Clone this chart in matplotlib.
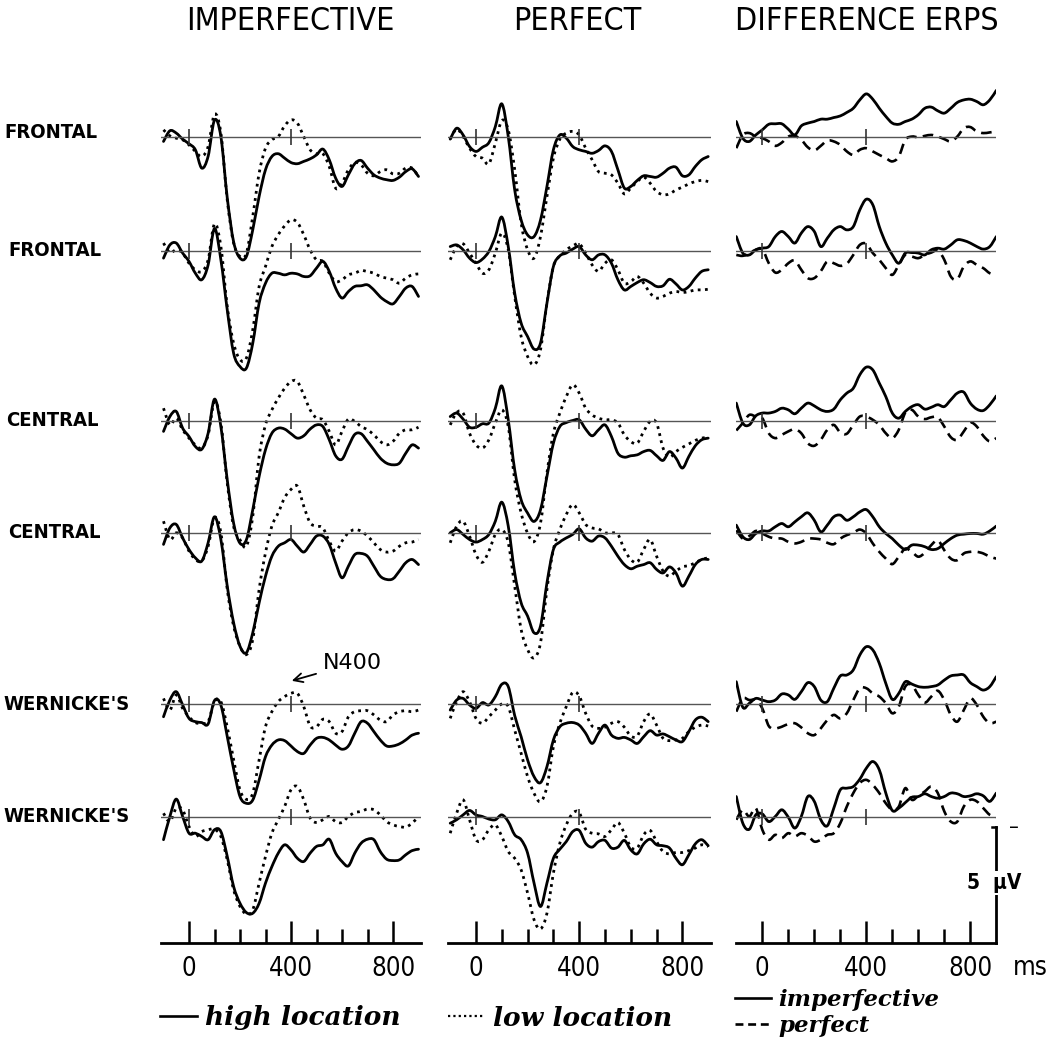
import numpy as np
import matplotlib
matplotlib.use("Agg")
import matplotlib.pyplot as plt
from matplotlib.ticker import FixedLocator
from matplotlib.path import Path
from matplotlib.patches import PathPatch
from matplotlib.lines import Line2D

# time grid (ms) shared by every waveform
times = np.arange(-100, 901, 25)

# ---- IMPERFECTIVE (high / low location), microvolts, positive down ----
imp_high_F1 = [0.17, -0.29, -0.19, 0.07, 0.27, 0.53, 1.32, 0.81, -0.75, -0.04, 2.6, 4.5, 5.2, 5.13, 3.98, 2.54, 1.39, 0.82, 0.70, 0.89, 1.08, 1.13, 1.03, 0.92, 0.75, 0.5, 0.96, 1.75, 2.11, 1.61, 1.13, 0.99, 1.32, 1.61, 1.75, 1.82, 1.85, 1.71, 1.47, 1.35, 1.68]
imp_low_F1 = [-0.33, -0.07, 0.03, 0.1, 0.32, 0.6, 0.82, 0.39, -1.0, -0.19, 2.69, 4.55, 5.13, 4.99, 3.4, 1.54, 0.46, 0.1, -0.04, -0.5, -0.76, -0.62, -0.04, 0.53, 0.7, 0.7, 1.25, 2.18, 1.97, 1.39, 1.08, 1.18, 1.54, 1.65, 1.47, 1.39, 1.57, 1.54, 1.32, 1.32, 1.68]
imp_high_F2 = [0.33, -0.24, -0.32, 0.11, 0.47, 0.98, 1.26, 0.62, -0.95, 0.4, 2.56, 4.43, 5.0, 5.07, 4.0, 2.27, 1.41, 0.98, 0.98, 1.05, 0.98, 1.01, 1.12, 1.09, 0.76, 0.47, 0.9, 1.62, 2.05, 1.77, 1.55, 1.52, 1.48, 1.7, 2.0, 2.2, 2.3, 1.98, 1.62, 1.55, 1.98]
imp_low_F2 = [-0.32, 0.09, -0.03, 0.11, 0.55, 0.83, 0.91, 0.4, -1.15, -0.17, 2.41, 4.0, 4.7, 4.64, 3.42, 1.55, 0.69, -0.17, -0.68, -1.06, -1.32, -1.21, -0.68, -0.03, 0.4, 0.47, 0.98, 1.34, 1.26, 1.05, 0.98, 0.86, 0.91, 0.98, 1.12, 1.19, 1.26, 1.41, 1.19, 1.05, 1.01]
imp_high_C1 = [0.47, -0.17, -0.39, 0.33, 0.69, 1.12, 1.24, 0.55, -0.92, 0.26, 2.56, 4.43, 5.29, 5.14, 3.85, 2.41, 1.26, 0.55, 0.33, 0.37, 0.57, 0.76, 0.66, 0.37, 0.19, 0.26, 0.83, 1.52, 1.67, 1.12, 0.6, 0.57, 0.9, 1.26, 1.62, 1.84, 1.91, 1.84, 1.41, 1.05, 1.19]
imp_low_C1 = [-0.53, 0.19, -0.1, 0.4, 0.76, 1.05, 1.19, 0.62, -0.82, 0.11, 2.7, 4.57, 5.14, 5.43, 4.14, 1.55, 0.19, -0.46, -0.96, -1.39, -1.68, -1.68, -1.1, -0.46, -0.1, -0.03, 0.47, 1.05, 0.47, -0.06, 0.04, 0.26, 0.4, 0.62, 0.9, 1.05, 0.9, 0.55, 0.4, 0.4, 0.29]
imp_high_C2 = [0.47, -0.24, -0.39, 0.19, 0.69, 1.05, 1.19, 0.4, -0.72, 0.26, 2.27, 3.85, 4.86, 5.14, 4.28, 2.99, 1.84, 0.98, 0.55, 0.4, 0.26, 0.55, 0.8, 0.47, 0.11, 0.11, 0.47, 1.26, 1.91, 1.41, 0.91, 0.86, 0.98, 1.41, 1.84, 1.98, 1.95, 1.62, 1.26, 1.12, 1.34]
imp_low_C2 = [-0.53, 0.26, -0.03, 0.19, 0.76, 1.12, 1.19, 0.55, -0.68, -0.03, 2.41, 3.99, 4.86, 5.22, 4.57, 2.41, 0.83, -0.32, -0.89, -1.54, -1.9, -2.04, -1.18, -0.46, -0.32, -0.24, 0.33, 0.76, 0.33, -0.03, -0.17, -0.1, 0.11, 0.4, 0.69, 0.8, 0.76, 0.55, 0.4, 0.37, 0.26]
imp_high_W1 = [0.55, -0.17, -0.53, 0.04, 0.62, 0.76, 0.8, 0.86, -0.15, 0.05, 1.4, 2.8, 3.99, 4.28, 4.14, 3.28, 2.27, 1.77, 1.55, 1.58, 1.81, 2.05, 2.13, 1.77, 1.48, 1.44, 1.55, 1.77, 1.95, 1.81, 1.26, 0.76, 0.83, 1.19, 1.55, 1.81, 1.81, 1.72, 1.55, 1.34, 1.26]
imp_low_W1 = [-0.24, 0.26, -0.39, 0.19, 0.55, 0.8, 0.83, 0.76, -0.1, -0.1, 1.0, 2.4, 3.71, 4.11, 3.85, 2.41, 0.98, 0.33, -0.1, -0.32, -0.46, -0.46, 0.11, 0.95, 0.98, 0.66, 0.76, 1.26, 1.19, 0.55, 0.33, 0.29, 0.29, 0.47, 0.69, 0.76, 0.47, 0.33, 0.29, 0.33, 0.26]
imp_high_W2 = [1.0, 0.0, -0.75, 0.0, 0.72, 0.72, 0.86, 1.0, 0.57, 0.65, 1.72, 3.02, 3.74, 4.14, 4.17, 3.74, 2.87, 2.16, 1.58, 1.22, 1.44, 1.8, 1.94, 1.58, 1.29, 1.22, 0.98, 1.58, 1.94, 2.13, 1.58, 1.15, 0.98, 1.0, 1.51, 1.84, 1.9, 1.87, 1.65, 1.47, 1.41]
imp_low_W2 = [-0.14, 0.22, -0.36, -0.29, 0.43, 0.86, 0.65, 0.57, 0.55, 0.86, 1.87, 3.16, 3.88, 4.2, 4.02, 2.87, 1.72, 0.72, 0.14, -0.43, -1.15, -1.29, -0.72, 0.07, 0.26, 0.14, 0.0, 0.22, 0.26, 0.0, -0.17, -0.22, -0.32, -0.29, -0.07, 0.22, 0.36, 0.43, 0.46, 0.29, 0.0]

# ---- PERFECT (high / low location) ----
perf_high_F1 = [0.07, -0.4, -0.11, 0.39, 0.6, 0.42, 0.22, -0.47, -1.45, -0.04, 2.26, 3.56, 4.2, 4.27, 3.56, 2.11, 0.53, -0.11, 0.03, 0.39, 0.53, 0.6, 0.68, 0.56, 0.36, 0.6, 1.39, 2.18, 2.11, 1.85, 1.65, 1.68, 1.71, 1.54, 1.32, 1.28, 1.65, 1.61, 1.25, 0.96, 0.82]
perf_low_F1 = [0.07, -0.36, -0.04, 0.46, 0.82, 0.89, 1.14, 0.24, -0.73, -0.33, 1.39, 3.69, 4.84, 5.2, 4.27, 2.54, 0.89, 0.07, -0.19, -0.26, -0.11, 0.46, 0.96, 1.47, 1.54, 1.61, 1.97, 2.43, 2.18, 1.9, 1.71, 1.97, 2.33, 2.47, 2.43, 2.26, 2.14, 2.0, 1.9, 1.85, 1.9]
perf_high_F2 = [-0.17, -0.24, -0.03, 0.33, 0.52, 0.37, 0.04, -0.6, -1.44, -0.17, 1.84, 3.13, 3.71, 4.25, 3.99, 2.27, 0.69, 0.23, 0.11, -0.06, -0.17, 0.19, 0.4, 0.19, 0.19, 0.55, 1.26, 1.7, 1.55, 1.38, 1.26, 1.38, 1.55, 1.52, 1.24, 1.44, 1.7, 1.55, 1.19, 0.9, 0.83]
perf_low_F2 = [0.4, -0.17, -0.29, 0.11, 0.55, 0.98, 0.83, 0.11, -0.75, -0.03, 1.98, 3.71, 4.57, 4.93, 4.28, 2.27, 0.69, 0.23, -0.03, -0.2, -0.29, 0.11, 0.62, 0.9, 0.55, 0.4, 0.83, 1.41, 1.34, 1.12, 1.41, 1.84, 2.05, 1.98, 1.84, 1.77, 1.81, 1.77, 1.7, 1.7, 1.67]
perf_high_C1 = [-0.17, -0.32, -0.06, 0.29, 0.29, 0.14, 0.11, -0.53, -1.49, -0.03, 2.13, 3.42, 3.99, 4.35, 3.85, 2.41, 0.98, 0.26, 0.09, 0.0, -0.03, 0.37, 0.66, 0.4, 0.19, 0.69, 1.41, 1.58, 1.52, 1.48, 1.34, 1.29, 1.52, 1.72, 1.34, 1.62, 2.05, 1.55, 1.09, 0.83, 0.76]
perf_low_C1 = [0.19, -0.34, -0.32, 0.55, 1.05, 1.19, 0.83, 0.11, -0.46, 0.26, 2.56, 3.99, 4.86, 5.22, 4.43, 2.27, 0.55, -0.32, -1.03, -1.54, -1.18, -0.53, -0.24, -0.1, -0.03, -0.03, 0.11, 0.62, 0.91, 0.98, 0.47, 0.04, 0.11, 1.19, 1.58, 1.34, 1.16, 1.01, 0.86, 0.76, 0.72]
perf_high_C2 = [-0.03, -0.17, 0.04, 0.26, 0.37, 0.26, 0.04, -0.53, -1.35, -0.32, 1.7, 2.99, 3.56, 4.28, 3.99, 2.13, 0.69, 0.37, 0.19, 0.04, -0.2, 0.19, 0.33, 0.11, 0.19, 0.55, 0.98, 1.34, 1.52, 1.41, 1.34, 1.26, 1.55, 1.7, 1.44, 1.7, 2.27, 1.84, 1.34, 1.12, 1.12]
perf_low_C2 = [0.4, -0.32, -0.53, 0.11, 0.91, 1.24, 0.76, 0.04, -0.17, 0.4, 2.27, 4.14, 5.0, 5.36, 4.71, 2.41, 0.69, -0.17, -0.82, -1.25, -0.89, -0.39, -0.24, -0.2, -0.03, -0.03, 0.04, 0.69, 1.12, 1.24, 0.69, 0.26, 0.98, 1.62, 1.84, 1.62, 1.44, 1.38, 1.26, 1.12, 1.05]
perf_high_W1 = [0.26, -0.17, -0.24, 0.04, 0.19, -0.06, 0.04, -0.32, -0.85, -0.75, 0.5, 1.41, 2.41, 3.13, 3.39, 2.7, 1.55, 0.98, 0.83, 0.8, 0.91, 1.26, 1.7, 1.26, 0.91, 1.34, 1.48, 1.44, 1.55, 1.7, 1.41, 1.15, 1.34, 1.29, 1.41, 1.55, 1.62, 1.19, 0.69, 0.57, 0.76]
perf_low_W1 = [0.62, -0.1, -0.53, -0.1, 0.62, 0.83, 0.55, 0.26, 0.0, 0.11, 1.12, 2.13, 3.13, 3.85, 4.21, 3.56, 1.84, 0.83, 0.11, -0.5, -0.35, 0.4, 0.95, 1.05, 1.0, 0.83, 0.76, 1.0, 1.38, 1.38, 0.76, 0.43, 0.91, 1.48, 1.58, 1.55, 1.48, 1.19, 1.0, 0.91, 0.95]
perf_high_W2 = [0.29, 0.14, -0.07, -0.26, -0.07, 0.0, 0.11, 0.14, -0.07, 0.22, 0.79, 1.0, 1.58, 2.87, 3.88, 2.87, 1.8, 1.41, 1.08, 0.65, 0.6, 1.15, 1.32, 1.08, 1.03, 1.36, 1.32, 1.03, 1.44, 1.61, 1.18, 0.98, 1.22, 1.26, 1.36, 1.8, 2.08, 1.65, 1.18, 1.0, 1.26]
perf_low_W2 = [0.72, -0.14, -0.72, 0.14, 1.0, 1.0, 0.57, 0.36, 0.86, 1.51, 1.8, 2.3, 3.3, 4.45, 4.85, 4.17, 2.44, 1.15, 0.36, -0.14, -0.17, 0.55, 0.72, 0.75, 0.86, 0.57, 0.26, 0.72, 1.32, 1.36, 0.79, 0.6, 1.08, 1.51, 1.61, 1.55, 1.55, 1.47, 1.36, 1.22, 1.29]

# ---- DIFFERENCE ERPS (low minus high) ----
diff_imp_F1 = [-0.69, 0.03, 0.17, -0.11, -0.33, -0.57, -0.59, -0.59, -0.36, -0.11, -0.5, -0.62, -0.69, -0.79, -0.79, -0.86, -0.93, -1.08, -1.26, -1.62, -1.88, -1.65, -1.26, -0.91, -0.62, -0.57, -0.69, -0.79, -0.98, -1.26, -1.31, -1.15, -1.05, -1.26, -1.51, -1.62, -1.65, -1.55, -1.41, -1.62, -2.03]
diff_perf_F1 = [0.46, -0.11, -0.19, -0.04, 0.03, 0.17, 0.36, 0.22, -0.04, -0.07, 0.1, 0.42, 0.56, 0.36, 0.13, 0.17, 0.32, 0.6, 0.75, 0.53, 0.46, 0.6, 0.75, 0.89, 1.03, 0.82, 0.1, -0.04, -0.01, -0.07, -0.11, -0.04, 0.07, 0.17, -0.04, -0.4, -0.45, -0.26, -0.19, -0.22, -0.26]
diff_imp_F2 = [-0.6, 0.11, 0.19, -0.03, -0.1, -0.17, -0.6, -0.82, -0.6, -0.32, -0.75, -1.03, -0.82, -0.17, -0.53, -0.89, -1.03, -0.89, -1.03, -1.75, -2.21, -1.97, -1.03, -0.32, 0.19, 0.55, 0.11, 0.09, 0.11, 0.19, -0.03, -0.1, -0.06, -0.24, -0.46, -0.43, -0.32, -0.17, -0.06, -0.17, -0.6]
diff_perf_F2 = [0.19, 0.23, 0.11, -0.03, -0.06, 0.55, 0.95, 0.83, 0.55, 0.43, 0.83, 1.19, 1.19, 0.89, 0.47, 0.55, 0.66, 0.57, 0.19, -0.24, -0.29, 0.11, 0.4, 0.76, 1.05, 0.62, 0.19, 0.26, 0.33, 0.19, 0.09, 0.0, 0.4, 1.12, 1.24, 0.69, 0.47, 0.62, 0.76, 0.98, 1.05]
diff_imp_C1 = [-0.75, 0.11, 0.19, -0.2, -0.32, -0.32, -0.39, -0.53, -0.46, -0.29, -0.53, -0.75, -0.63, -0.46, -0.39, -0.49, -0.89, -1.18, -1.39, -1.97, -2.3, -2.18, -1.61, -1.03, -0.32, -0.1, -0.39, -0.6, -0.68, -0.49, -0.57, -0.68, -0.6, -0.89, -1.18, -1.22, -0.75, -0.49, -0.43, -0.68, -1.06]
diff_perf_C1 = [0.43, 0.11, -0.24, -0.17, -0.1, 0.55, 0.76, 0.62, 0.47, 0.37, 0.55, 0.98, 1.09, 0.83, 0.4, 0.19, 0.52, 0.57, 0.19, -0.17, -0.17, -0.03, 0.19, 0.55, 0.76, 0.4, -0.34, -0.46, -0.17, -0.06, -0.14, -0.14, 0.26, 0.72, 0.83, 0.47, 0.09, 0.26, 0.66, 0.9, 0.76]
diff_imp_C2 = [-0.36, 0.14, 0.26, 0.0, -0.11, -0.11, -0.29, -0.43, -0.29, -0.5, -0.72, -0.89, -0.57, -0.07, -0.36, -0.72, -0.79, -0.57, -0.72, -0.93, -1.03, -0.72, -0.29, 0.0, 0.22, 0.5, 0.69, 0.5, 0.5, 0.57, 0.69, 0.65, 0.43, 0.22, 0.07, 0.03, 0.0, 0.0, 0.03, -0.11, -0.32]
diff_perf_C2 = [-0.14, 0.22, 0.11, -0.11, 0.0, 0.14, 0.22, 0.22, 0.36, 0.43, 0.36, 0.22, 0.22, 0.26, 0.4, 0.46, 0.22, 0.07, -0.03, -0.17, 0.0, 0.43, 0.79, 1.08, 1.32, 1.0, 0.65, 0.79, 1.0, 0.83, 0.5, 0.29, 0.72, 1.08, 1.15, 0.86, 0.79, 0.79, 0.86, 1.0, 1.08]
diff_imp_W1 = [-0.96, 0.14, -0.03, -0.24, -0.17, -0.1, -0.17, -0.43, -0.39, -0.2, -0.53, -0.92, -0.75, -0.17, -0.1, -0.68, -1.21, -1.25, -1.47, -2.11, -2.47, -2.33, -1.75, -0.89, -0.2, -0.46, -0.96, -0.86, -0.75, -0.72, -0.75, -0.82, -1.03, -1.21, -1.25, -1.25, -0.92, -0.75, -0.6, -0.75, -1.18]
diff_perf_W1 = [0.33, -0.24, -0.17, -0.17, 0.19, 0.95, 1.05, 0.98, 0.86, 0.83, 1.01, 1.26, 1.34, 1.05, 0.69, 0.47, 0.62, 0.4, -0.17, -0.68, -0.68, -0.46, -0.32, -0.03, 0.4, 0.11, -0.75, -0.82, -0.39, -0.06, -0.32, -0.57, -0.17, 0.47, 0.76, 0.26, -0.24, 0.04, 0.55, 0.83, 0.76]
diff_imp_W2 = [-0.86, 0.29, 0.55, -0.07, -0.11, 0.22, 0.0, -0.29, 0.03, 0.5, 0.0, -0.86, -0.65, 0.14, 0.4, -0.36, -1.15, -1.22, -1.29, -1.61, -2.08, -2.37, -2.01, -1.01, -0.26, -0.36, -0.6, -0.83, -0.86, -0.98, -0.86, -0.79, -0.86, -1.01, -0.98, -0.86, -0.89, -0.98, -0.89, -0.65, -1.01]
diff_perf_W2 = [0.14, -0.29, 0.0, -0.36, 0.57, 1.0, 0.79, 0.93, 0.72, 0.86, 0.72, 0.83, 1.08, 1.0, 0.79, 0.72, 0.29, -0.43, -1.01, -1.44, -1.58, -1.36, -1.01, -0.57, -0.29, -0.43, -1.22, -0.72, -0.89, -1.08, -1.29, -1.01, -0.22, 0.22, 0.22, -0.43, -0.72, -0.65, -0.36, -0.07, 0.03]

row_labels = ["FRONTAL", "FRONTAL", "CENTRAL", "CENTRAL", "WERNICKE'S", "WERNICKE'S"]
col_titles = ["IMPERFECTIVE", "PERFECT", "DIFFERENCE ERPS"]
tick_labels = ["0", "400", "800"]

columns = [
    [(imp_high_F1, imp_low_F1), (imp_high_F2, imp_low_F2), (imp_high_C1, imp_low_C1),
     (imp_high_C2, imp_low_C2), (imp_high_W1, imp_low_W1), (imp_high_W2, imp_low_W2)],
    [(perf_high_F1, perf_low_F1), (perf_high_F2, perf_low_F2), (perf_high_C1, perf_low_C1),
     (perf_high_C2, perf_low_C2), (perf_high_W1, perf_low_W1), (perf_high_W2, perf_low_W2)],
    [(diff_imp_F1, diff_perf_F1), (diff_imp_F2, diff_perf_F2), (diff_imp_C1, diff_perf_C1),
     (diff_imp_C2, diff_perf_C2), (diff_imp_W1, diff_perf_W1), (diff_imp_W2, diff_perf_W2)],
]

# ---- layout (pixels) ----
W, H = 1050, 1040
PX_UV = 23.2                      # pixels per microvolt
col_zero = [189.0, 476.0, 762.3]  # x pixel of 0 ms
col_scale = [0.255, 0.258, 0.26]  # pixels per ms
col_xlim = [(-110, 910), (-110, 910), (-100, 900)]
row_base = [137.5, 250.5, 420.5, 533.5, 704.0, 816.5]
axis_y = 943.0

narrow = dict(family="DejaVu Sans", stretch="condensed")
legend_font = dict(family="DejaVu Serif", weight="bold", style="italic", size=19)
legend_font_small = dict(family="DejaVu Serif", weight="bold", style="italic", size=16.5)

fig = plt.figure(figsize=(W / 100, H / 100), dpi=100)


def px_axes(x0, x1, y0, y1):
    ax = fig.add_axes([x0 / W, 1 - y1 / H, (x1 - x0) / W, (y1 - y0) / H])
    ax.patch.set_alpha(0)
    return ax


def smooth_curve(ax, x, y, **style):
    # draw the measured points as a smooth (Catmull-Rom / Bezier) pen stroke
    p = np.column_stack([x, y]).astype(float)
    verts = [p[0]]
    codes = [Path.MOVETO]
    for i in range(len(p) - 1):
        p0 = p[max(i - 1, 0)]
        p1, p2 = p[i], p[i + 1]
        p3 = p[min(i + 2, len(p) - 1)]
        verts += [p1 + (p2 - p0) / 6.0, p2 - (p3 - p1) / 6.0, p2]
        codes += [Path.CURVE4] * 3
    ax.add_patch(PathPatch(Path(verts, codes), fill=False, **style))


solid = dict(edgecolor="black", lw=2.0, capstyle="round", joinstyle="round")
dotted = dict(edgecolor="black", lw=2.0, ls=(0, (1, 1.6)))
dashed = dict(edgecolor="black", lw=1.9, ls=(0, (4, 2.4)))

for c in range(3):
    t0, t1 = col_xlim[c]
    xl = col_zero[c] + t0 * col_scale[c]
    xr = col_zero[c] + t1 * col_scale[c]
    for r in range(6):
        base = row_base[r]
        ax = px_axes(xl, xr, base - 80, base + 130)
        ax.set_xlim(t0, t1)
        ax.set_ylim(130 / PX_UV, -80 / PX_UV)
        ax.axis("off")
        ax.axhline(0, color="#555555", lw=1.0)
        ax.vlines([0, 400], -8 / PX_UV, 8 / PX_UV, color="#333333", lw=1.2)
        a, b = columns[c][r]
        smooth_curve(ax, times, a, **solid)
        smooth_curve(ax, times, b, **(dashed if c == 2 else dotted))
        if c == 0 and r == 4:
            ax.annotate("N400", xy=(403, -1.0), xytext=(525, -1.75),
                        ha="left", va="center", fontsize=16,
                        arrowprops=dict(arrowstyle="->", lw=1.3, color="black",
                                        shrinkA=3, shrinkB=0, mutation_scale=16))

    # time axis at the bottom
    ax = px_axes(xl, xr, 815, axis_y)
    ax.set_xlim(t0, t1)
    ax.set_ylim(0, -128 / PX_UV)
    for s in ["top", "left", "right"]:
        ax.spines[s].set_visible(False)
    ax.spines["bottom"].set_linewidth(2.0)
    ax.set_yticks([])
    ax.xaxis.set_major_locator(FixedLocator([0, 400, 800]))
    ax.xaxis.set_minor_locator(FixedLocator([100, 200, 300, 500, 600, 700]))
    ax.set_xticklabels(tick_labels, fontsize=18.5, **narrow)
    ax.tick_params(axis="x", which="major", direction="in", length=16, width=1.8, pad=9)
    ax.tick_params(axis="x", which="minor", direction="in", length=10, width=1.8)
    if c == 2:
        ax.plot([900, 900], [0, -5], color="black", lw=2.0, clip_on=False)
        ax.plot([885, 900], [-5, -5], color="black", lw=1.8, clip_on=False)
        ax.text(968, -5, "\u2013", ha="center", va="center", fontsize=14, clip_on=False)
        ax.text(893, -2.6, "5  \u03bcV", ha="center", va="center", fontsize=15,
                weight="bold", bbox=dict(facecolor="white", edgecolor="none", pad=1.5),
                **narrow)

fig.text(1030 / W, 1 - 968 / H, "ms", ha="center", va="center", fontsize=18.5, **narrow)

# column titles
for x, title in zip([290, 577, 867], col_titles):
    fig.text(x / W, 1 - 21 / H, title, ha="center", va="center", fontsize=23, **narrow)

# row labels
for x, y, lab in zip([4, 8, 6, 8, 3, 3], [133, 250, 420, 533, 704, 817], row_labels):
    fig.text(x / W, 1 - y / H, lab, ha="left", va="center", fontsize=14.5, weight="bold",
             **narrow)

# legends (proxy lines carry the same pen styles as the curves)
h_solid = Line2D([], [], color="black", lw=1.9)
h_dot = Line2D([], [], color="black", lw=1.6, ls=(0, (1, 1.4)))
h_dash = Line2D([], [], color="black", lw=1.9, ls=(0, (3, 1.8)))
leg_kw = dict(frameon=False, borderpad=0, borderaxespad=0, handletextpad=0.3,
              loc="center left")
fig.legend([h_solid], ["high location"], bbox_to_anchor=(160 / W, 1 - 1018 / H),
           handlelength=1.4, prop=legend_font, **leg_kw)
fig.legend([h_dot], ["low location"], bbox_to_anchor=(448 / W, 1 - 1018 / H),
           handlelength=1.4, prop=legend_font, **leg_kw)
fig.legend([h_solid], ["imperfective"], bbox_to_anchor=(735 / W, 1 - 1000 / H),
           handlelength=1.55, handletextpad=0.35, prop=legend_font_small,
           **{k: v for k, v in leg_kw.items() if k != "handletextpad"})
fig.legend([h_dash], ["perfect"], bbox_to_anchor=(735 / W, 1 - 1026 / H),
           handlelength=1.55, handletextpad=0.35, prop=legend_font_small,
           **{k: v for k, v in leg_kw.items() if k != "handletextpad"})

fig.savefig("out.png", dpi=100)
